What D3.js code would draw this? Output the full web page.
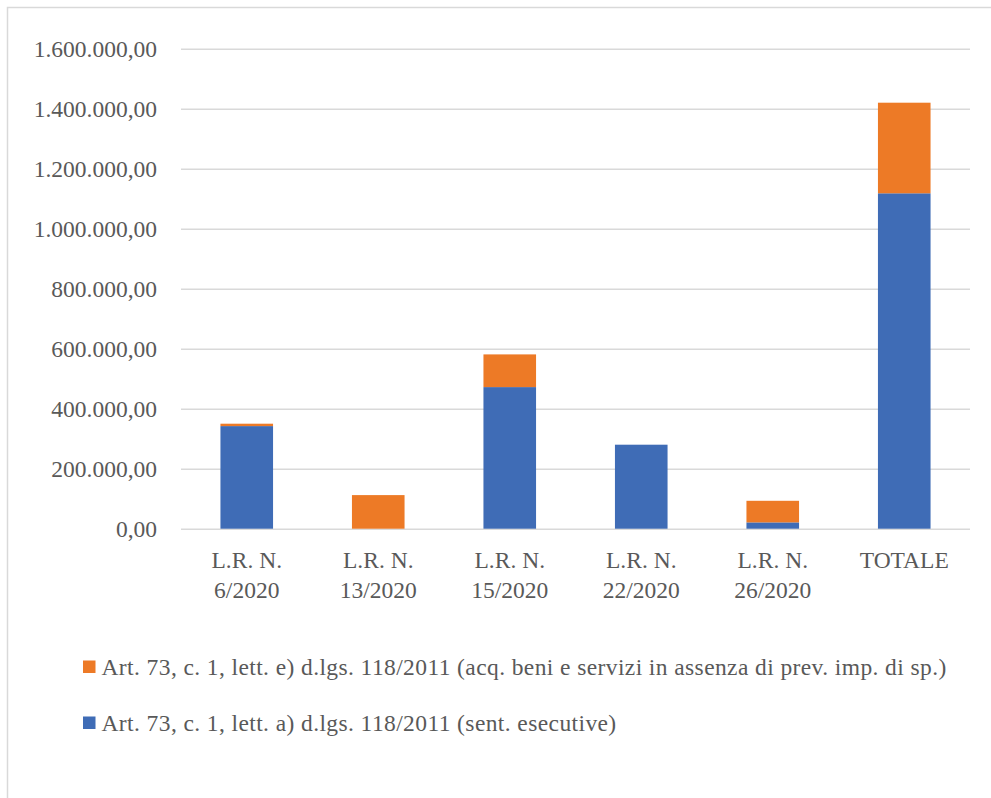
<!DOCTYPE html>
<html>
<head>
<meta charset="utf-8">
<script src="https://cdn.jsdelivr.net/npm/d3@7/dist/d3.min.js"></script>
<style>
  html, body { margin: 0; padding: 0; background: #fff; }
  svg text { font-family: "Palatino Linotype", "Book Antiqua", Palatino, "Liberation Serif", serif; fill: #595959; }
</style>
</head>
<body>
<svg id="chart" width="991" height="798"></svg>
<script>
// Categories (multi-line labels split on "\n")
const categories = ["L.R. N.\n6/2020", "L.R. N.\n13/2020", "L.R. N.\n15/2020", "L.R. N.\n22/2020", "L.R. N.\n26/2020", "TOTALE"];
// Art. 73 lett. a) – sentenze esecutive
const seriesA = [342000, 0, 472000, 280000, 21000, 1118000];
// Art. 73 lett. e) – acquisizione beni e servizi
const seriesE = [8000, 112000, 109000, 0, 72000, 302000];
const yTicks = [0, 200000, 400000, 600000, 800000, 1000000, 1200000, 1400000, 1600000];
const legendLabels = [
  "Art. 73, c. 1, lett. e) d.lgs. 118/2011 (acq. beni e servizi in assenza di prev. imp. di sp.)",
  "Art. 73, c. 1, lett. a) d.lgs. 118/2011 (sent. esecutive)"
];
const colors = { a: "#3F6CB6", e: "#ED7A26" };
const fontSize = 23.5;

const svg = d3.select("#chart");

// outer frame
svg.append("rect")
  .attr("x", 7.5).attr("y", 7.5)
  .attr("width", 1100).attr("height", 900)
  .attr("fill", "none").attr("stroke", "#D9D9D9").attr("stroke-width", 1.5);

const plot = { left: 181, right: 970, top: 48.7, bottom: 528.7 };

const x = d3.scaleBand()
  .domain(categories)
  .range([plot.left, plot.right])
  .paddingInner(0.6).paddingOuter(0.3);

const y = d3.scaleLinear()
  .domain([0, 1600000])
  .range([plot.bottom, plot.top]);

const fmt = v => {
  const s = d3.format(",.2f")(v);
  return s.replace(/,/g, "#").replace(".", ",").replace(/#/g, ".");
};

// gridlines + y labels via axis
const yAxis = d3.axisLeft(y)
  .tickValues(yTicks)
  .tickSize(-(plot.right - plot.left))
  .tickPadding(24)
  .tickFormat(fmt);

const gy = svg.append("g")
  .attr("transform", `translate(${plot.left},0)`)
  .call(yAxis);
gy.select(".domain").remove();
gy.selectAll(".tick line").attr("stroke", "#D9D9D9").attr("stroke-width", 1.5);
gy.selectAll(".tick text")
  .attr("font-size", fontSize)
  .style("fill", "#595959")
  .attr("dy", "0.32em");

// stacked bars
const stacked = categories.map((c, i) => ({ cat: c, a: seriesA[i], e: seriesE[i] }));
const stack = d3.stack().keys(["a", "e"])(stacked);

svg.append("g").selectAll("g")
  .data(stack)
  .join("g")
  .attr("fill", d => colors[d.key])
  .selectAll("rect")
  .data(d => d.filter(s => s[1] - s[0] > 0))
  .join("rect")
  .attr("x", d => x(d.data.cat))
  .attr("width", x.bandwidth())
  .attr("y", d => y(d[1]))
  .attr("height", d => y(d[0]) - y(d[1]));

// x labels
const gx = svg.append("g");
categories.forEach(c => {
  const lines = c.split("\n");
  const t = gx.append("text")
    .attr("text-anchor", "middle")
    .attr("font-size", fontSize);
  lines.forEach((ln, j) => {
    t.append("tspan")
      .attr("x", x(c) + x.bandwidth() / 2)
      .attr("y", 567.5 + j * 30.5)
      .text(ln);
  });
});

// legend
const legendColors = [colors.e, colors.a];
const lg = svg.append("g");
legendLabels.forEach((lab, i) => {
  const cy = 667 + i * 56;
  lg.append("rect")
    .attr("x", 83).attr("y", cy - 6.5)
    .attr("width", 12.5).attr("height", 12.5)
    .attr("fill", legendColors[i]);
  lg.append("text")
    .attr("x", 101.5).attr("y", cy)
    .attr("dy", "0.32em")
    .attr("font-size", fontSize)
    .attr("letter-spacing", 0.4)
    .text(lab);
});
</script>
</body>
</html>
